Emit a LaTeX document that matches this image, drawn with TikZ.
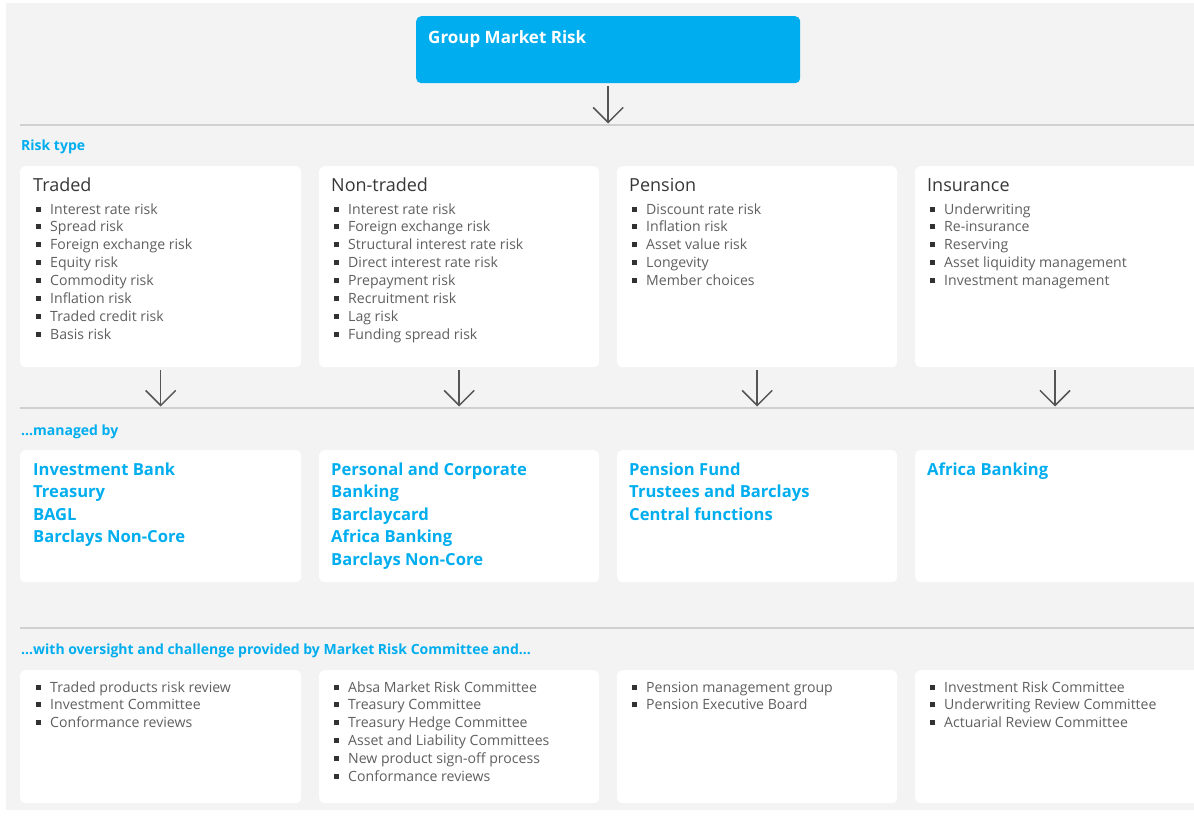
\documentclass[tikz,border=0pt]{standalone}
\usepackage{fontspec}
\setmainfont{Open Sans}
\usetikzlibrary{arrows.meta}
\definecolor{cyanb}{RGB}{0,174,239}
\definecolor{bgc}{RGB}{243,243,243}
\definecolor{rulec}{RGB}{208,208,208}
\definecolor{txt}{RGB}{95,95,95}
\definecolor{head}{RGB}{55,55,55}
\definecolor{arr}{RGB}{85,85,85}
\definecolor{bulc}{RGB}{50,50,50}
\newcommand\bul{{\color{bulc}\rule[2.5pt]{5pt}{5pt}}\hspace{9pt}}
\newcommand\blist[5]{\foreach \itm [count=\i] in {#5} {\node[li] (#1-\i) at (#2, {#3+(\i-1)*#4}) {\bul\itm};}}
\newcommand\mlist[4]{\foreach \itm [count=\i] in {#4} {\node[mg] (#1-\i) at (#2, {#3+(\i-1)*22.6}) {\itm};}}
\tikzset{
 card/.style={fill=white, rounded corners=5pt, draw=none, inner sep=0pt, anchor=north west},
 li/.style={anchor=base west, inner sep=0pt, text=txt, font=\fontsize{14.1}{18}\selectfont},
 hd/.style={anchor=base west, inner sep=0pt, text=head, font=\fontsize{18}{20}\selectfont},
 mg/.style={anchor=base west, inner sep=0pt, text=cyanb, font=\bfseries\fontsize{16.6}{20}\selectfont},
 lab/.style={anchor=base west, inner sep=0pt, text=cyanb, font=\bfseries\fontsize{14}{16}\selectfont},
 rulel/.style={draw=rulec, line width=2.5pt},
 flow/.style={draw=arr, line width=1.5pt, shorten <=3pt, shorten >=1.5pt, -{Straight Barb[length=15pt,width=30pt,line width=1.5pt]}},
}
\begin{document}
\begin{tikzpicture}[x=1pt,y=-1pt]
\useasboundingbox (0,0) rectangle (1194,815);
\clip (0,0) rectangle (1194,815);
\fill[bgc] (6,3) rectangle (1200,810);
% top
\node[card, fill=cyanb, minimum width=384pt, minimum height=67pt] (top) at (416,16) {};
\node[anchor=base west, inner sep=0pt, text=white, font=\bfseries\fontsize{17}{20}\selectfont] (toplbl) at (428,43) {Group Market Risk};
% rules
\coordinate (r1) at (20,125);
\coordinate (r2) at (20,408);
\coordinate (r3) at (20,628);
\draw[rulel] (r1) -- (1200,125);
\draw[rulel] (r2) -- (1200,408);
\draw[rulel] (r3) -- (1200,628);
\draw[flow] (top.south) -- (top.south |- r1);
% labels
\node[lab] (l1) at (21,150) {Risk type};
\node[lab] (l2) at (21,435) {...managed by};
\node[lab] (l3) at (21,654) {...with oversight and challenge provided by Market Risk Committee and...};
% row 1 cards
\node[card, minimum width=281pt, minimum height=201pt] (a1) at (20,166) {};
\node[card, minimum width=280pt, minimum height=201pt] (a2) at (319,166) {};
\node[card, minimum width=280pt, minimum height=201pt] (a3) at (617,166) {};
\node[card, minimum width=300pt, minimum height=201pt] (a4) at (915,166) {};
% row 2 cards
\node[card, minimum width=281pt, minimum height=132pt] (b1) at (20,450) {};
\node[card, minimum width=280pt, minimum height=132pt] (b2) at (319,450) {};
\node[card, minimum width=280pt, minimum height=132pt] (b3) at (617,450) {};
\node[card, minimum width=300pt, minimum height=132pt] (b4) at (915,450) {};
% row 3 cards
\node[card, minimum width=281pt, minimum height=133pt] (c1) at (20,670) {};
\node[card, minimum width=280pt, minimum height=133pt] (c2) at (319,670) {};
\node[card, minimum width=280pt, minimum height=133pt] (c3) at (617,670) {};
\node[card, minimum width=300pt, minimum height=133pt] (c4) at (915,670) {};
% arrows
\coordinate (a4s) at (1055,367);
\draw[flow] (a1.south) -- (a1.south |- r2);
\draw[flow] (a2.south) -- (a2.south |- r2);
\draw[flow] (a3.south) -- (a3.south |- r2);
\draw[flow] (a4s) -- (a4s |- r2);
% headings
\node[hd] (h1) at (33,191) {Traded};
\node[hd] (h2) at (331,191) {Non-traded};
\node[hd] (h3) at (629,191) {Pension};
\node[hd] (h4) at (927,191) {Insurance};
% row 1 lists
\blist{p1}{36}{214}{17.9}{Interest rate risk,Spread risk,Foreign exchange risk,Equity risk,Commodity risk,Inflation risk,Traded credit risk,Basis risk}
\blist{p2}{334}{214}{17.9}{Interest rate risk,Foreign exchange risk,Structural interest rate risk,Direct interest rate risk,Prepayment risk,Recruitment risk,Lag risk,Funding spread risk}
\blist{p3}{632}{214}{17.9}{Discount rate risk,Inflation risk,Asset value risk,Longevity,Member choices}
\blist{p4}{930}{214}{17.9}{Underwriting,Re-insurance,Reserving,Asset liquidity management,Investment management}
% row 2
\mlist{m1}{33}{475}{Investment Bank,Treasury,BAGL,Barclays Non-Core}
\mlist{m2}{331}{475}{Personal and Corporate,Banking,Barclaycard,Africa Banking,Barclays Non-Core}
\mlist{m3}{629}{475}{Pension Fund,Trustees and Barclays,Central functions}
\mlist{m4}{927}{475}{Africa Banking}
% row 3
\blist{q1}{36}{692}{17.8}{Traded products risk review,Investment Committee,Conformance reviews}
\blist{q2}{334}{692}{17.8}{Absa Market Risk Committee,Treasury Committee,Treasury Hedge Committee,Asset and Liability Committees,New product sign-off process,Conformance reviews}
\blist{q3}{632}{692}{17.8}{Pension management group,Pension Executive Board}
\blist{q4}{930}{692}{17.8}{Investment Risk Committee,Underwriting Review Committee,Actuarial Review Committee}
\end{tikzpicture}
\end{document}
